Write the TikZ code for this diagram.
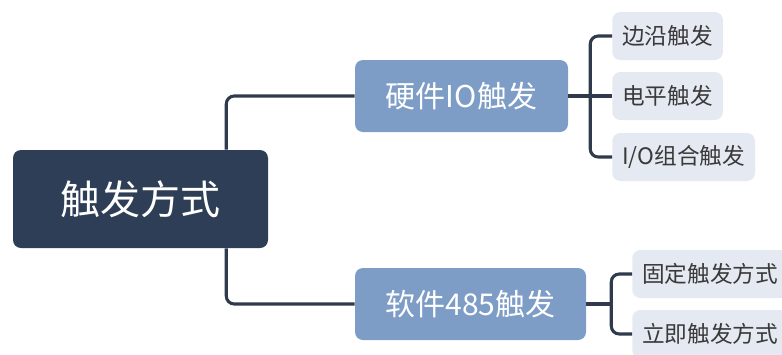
\documentclass[tikz,border=0pt]{standalone}
\usepackage{fontspec}
\setmainfont{Noto Sans CJK SC}
\usepackage{xcolor}
\usepackage{tikz}
\definecolor{trigdark}{RGB}{46, 62, 87}
\definecolor{trigblue}{RGB}{126, 157, 198}
\definecolor{triglight}{RGB}{229, 234, 242}
\definecolor{trigline}{RGB}{47, 58, 76}
\definecolor{trigtext}{RGB}{58, 58, 58}

\tikzset{
    rootbox/.style={fill=trigdark, rounded corners=6pt, text=white, font=\fontsize{30pt}{30pt}\selectfont, minimum width=191.25pt, minimum height=73.5pt, inner sep=0pt},
    midbox/.style={fill=trigblue, rounded corners=6pt, text=white, font=\fontsize{22.5pt}{22.5pt}\selectfont, minimum height=54pt, inner sep=0pt},
    leafbox/.style={fill=triglight, rounded corners=6pt, text=trigtext, font=\fontsize{17pt}{17pt}\selectfont, minimum height=36pt, inner xsep=7.5pt, inner ysep=0pt, anchor=west},
    conn/.style={draw=trigline, line width=2.3pt, rounded corners=6pt}
}

\begin{document}
\begin{tikzpicture}[x=0.75pt, y=-0.75pt]
    \useasboundingbox (0,0) rectangle (782,354);
    \clip (0,0) rectangle (782,354);

    % Root node
    \node[rootbox] (root) at (140.5,199) {触发方式};

    % Trigger sources
    \node[midbox, minimum width=159.75pt] (hw) at (461.5,96) {硬件IO触发};
    \node[midbox, minimum width=173.25pt] (sw) at (470.5,304) {软件485触发};

    % Hardware leaves
    \node[leafbox] (edge) at (612,36) {边沿触发};
    \node[leafbox] (level) at (612,96) {电平触发};
    \node[leafbox] (combo) at (612,157) {I/O组合触发};

    % Software leaves
    \node[leafbox] (fixed) at (632,274) {固定触发方式};
    \node[leafbox] (instant) at (632,334) {立即触发方式};

    % Root to trigger sources
    \coordinate (rt) at ([xshift=-31.5pt]root.north east);
    \coordinate (rb) at ([xshift=-31.5pt]root.south east);
    \draw[conn] (rt) |- (hw.west);
    \draw[conn] (rb) |- (sw.west);

    % Hardware bracket
    \draw[conn] (hw.east) -- ++(22,0) coordinate (hwj);
    \draw[conn] (hwj) |- (edge.west);
    \draw[conn] (hwj) -- (level.west);
    \draw[conn] (hwj) |- (combo.west);

    % Software bracket
    \draw[conn] (sw.east) -- ++(25,0) coordinate (swj);
    \draw[conn] (swj) |- (fixed.west);
    \draw[conn] (swj) |- (instant.west);
\end{tikzpicture}
\end{document}
